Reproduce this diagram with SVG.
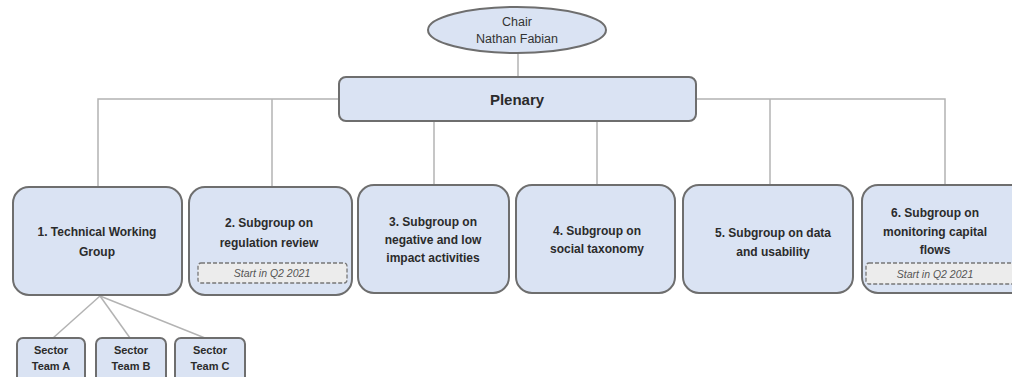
<svg xmlns="http://www.w3.org/2000/svg" width="1012" height="377" viewBox="0 0 1012 377">
<style>
.box{fill:#dae3f3;stroke:#6e6e6e;stroke-width:2}
.t{font-family:"Liberation Sans",Arial,sans-serif;font-weight:bold;font-size:12px;fill:#2b2b2b;text-anchor:middle}
.pl{font-size:15px}
.sm{font-size:11px}
.st{font-family:"Liberation Sans",Arial,sans-serif;font-style:italic;font-size:10.5px;fill:#555;text-anchor:middle}
.ch{font-family:"Liberation Sans",Arial,sans-serif;font-size:12.5px;fill:#333;text-anchor:middle}
.dash{fill:#ececec;stroke:#777;stroke-width:1.3;stroke-dasharray:4 2}
.c{fill:none;stroke:#b3b3b3;stroke-width:1.5}
</style>
<rect width="1012" height="377" fill="#fff"/>
<g id="connectors">
<line class="c" x1="518" y1="53" x2="518" y2="77"/>
<polyline class="c" points="98,186 98,99 945,99 945,186"/>
<line class="c" x1="272" y1="99" x2="272" y2="187"/>
<line class="c" x1="434" y1="121" x2="434" y2="185"/>
<line class="c" x1="597" y1="121" x2="597" y2="185"/>
<line class="c" x1="770" y1="99" x2="770" y2="185"/>
<line class="c" x1="100" y1="296" x2="53" y2="338"/>
<line class="c" x1="100" y1="296" x2="130" y2="338"/>
<line class="c" x1="100" y1="296" x2="205" y2="338"/>
</g>
<g id="chair">
<ellipse cx="517" cy="30" rx="89" ry="23" class="box"/>
<text x="517" y="26" class="ch">Chair</text>
<text x="517" y="43" class="ch">Nathan Fabian</text>
</g>
<g id="plenary">
<rect x="339" y="77" width="357" height="44" rx="7" class="box"/>
<text x="517" y="105" class="t pl">Plenary</text>
</g>
<g id="g1">
<rect x="13" y="187" width="169" height="108" rx="16" class="box"/>
<text x="97" y="236" class="t">1. Technical Working</text>
<text x="97" y="256" class="t">Group</text>
</g>
<g id="g2">
<rect x="189" y="187" width="163" height="108" rx="16" class="box"/>
<text x="269" y="227" class="t">2. Subgroup on</text>
<text x="269" y="247" class="t">regulation review</text>
<rect x="198" y="263" width="149" height="20" rx="3" class="dash"/>
<text x="272" y="277" class="st">Start in Q2 2021</text>
</g>
<g id="g3">
<rect x="358" y="185" width="151" height="108" rx="16" class="box"/>
<text x="433" y="226" class="t">3. Subgroup on</text>
<text x="433" y="244" class="t">negative and low</text>
<text x="433" y="262" class="t">impact activities</text>
</g>
<g id="g4">
<rect x="516" y="185" width="159" height="108" rx="16" class="box"/>
<text x="597" y="235" class="t">4. Subgroup on</text>
<text x="597" y="253" class="t">social taxonomy</text>
</g>
<g id="g5">
<rect x="683" y="185" width="170" height="108" rx="16" class="box"/>
<text x="773" y="237" class="t">5. Subgroup on data</text>
<text x="773" y="256" class="t">and usability</text>
</g>
<g id="g6">
<rect x="862" y="185" width="170" height="108" rx="16" class="box"/>
<text x="935" y="217" class="t">6. Subgroup on</text>
<text x="935" y="236" class="t">monitoring capital</text>
<text x="935" y="254" class="t">flows</text>
<rect x="866" y="263" width="160" height="21" rx="3" class="dash"/>
<text x="935" y="278" class="st">Start in Q2 2021</text>
</g>
<g id="teamA">
<rect x="17" y="338" width="68" height="50" rx="6" class="box"/>
<text x="51" y="354" class="t sm">Sector</text>
<text x="51" y="370" class="t sm">Team A</text>
</g>
<g id="teamB">
<rect x="96" y="338" width="70" height="50" rx="6" class="box"/>
<text x="131" y="354" class="t sm">Sector</text>
<text x="131" y="370" class="t sm">Team B</text>
</g>
<g id="teamC">
<rect x="175" y="338" width="70" height="50" rx="6" class="box"/>
<text x="210" y="354" class="t sm">Sector</text>
<text x="210" y="370" class="t sm">Team C</text>
</g>
</svg>
